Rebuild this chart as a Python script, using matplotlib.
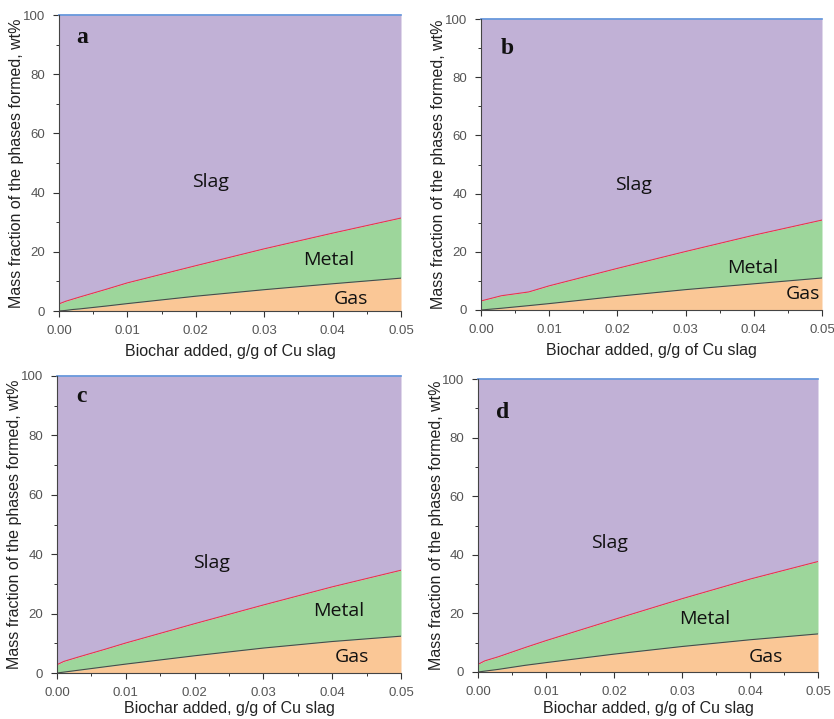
import matplotlib.pyplot as plt
import matplotlib.ticker as mticker
import numpy as np

# --------------------------------------------------------------------------- #
# Data (cumulative wt%)
# --------------------------------------------------------------------------- #

BIOCHAR = [0.0, 0.001, 0.002, 0.003, 0.007, 0.01, 0.02, 0.03, 0.04, 0.05]

GAS_A = [0.0, 0.2, 0.5, 0.7, 1.7, 2.5, 5.0, 7.2, 9.2, 11.1]
METAL_TOP_A = [2.4, 3.3, 4.0, 4.7, 7.4, 9.5, 15.3, 21.0, 26.3, 31.4]

GAS_B = [0.0, 0.2, 0.4, 0.6, 1.5, 2.2, 4.7, 7.0, 9.0, 11.0]
METAL_TOP_B = [3.1, 3.7, 4.3, 4.9, 6.2, 8.3, 14.3, 20.1, 25.7, 30.9]

GAS_C = [0.0, 0.3, 0.6, 0.9, 2.1, 3.0, 5.8, 8.4, 10.6, 12.4]
METAL_TOP_C = [2.8, 3.9, 4.6, 5.3, 8.0, 10.1, 16.6, 22.9, 29.0, 34.6]

GAS_D = [0.0, 0.3, 0.6, 0.9, 2.3, 3.2, 6.1, 8.7, 11.0, 13.0]
METAL_TOP_D = [2.6, 3.8, 4.5, 5.2, 8.4, 10.7, 17.9, 25.0, 31.7, 37.7]

PANEL_LETTERS = ["a", "b", "c", "d"]
GAS_SERIES = [GAS_A, GAS_B, GAS_C, GAS_D]
METAL_SERIES = [METAL_TOP_A, METAL_TOP_B, METAL_TOP_C, METAL_TOP_D]

# label anchor points (data coords): slag, metal, gas
LABEL_POS = [
    [(0.0222, 43.5), (0.0394, 17.3), (0.0427, 4.2)],
    [(0.0223, 43.0), (0.0399, 14.6), (0.0472, 5.5)],
    [(0.0224, 37.2), (0.0410, 20.8), (0.0428, 5.4)],
    [(0.0193, 44.0), (0.0334, 18.0), (0.0424, 5.2)],
]
LETTER_POS = [(0.069, 0.925), (0.077, 0.90), (0.071, 0.932), (0.072, 0.887)]

# axes rectangles in pixels: left, right, top, bottom
AX_PX = [
    (59, 401, 15, 311),
    (481, 822, 19, 310),
    (57, 401, 376, 673),
    (478, 818, 379, 672),
]
# pixel positions: right edge of y label, top of x label
YLABEL_RIGHT_PX = [24, 446, 22, 444]
XLABEL_TOP_PX = [344, 343, 701, 701]

SLAG_COLOR = "#C1B1D6"
METAL_COLOR = "#9DD69B"
GAS_COLOR = "#FAC796"

W, H = 834, 719


def draw_panel(ax, gas, metal_top, letter, labels, letter_pos):
    x = np.array(BIOCHAR)
    gas = np.array(gas)
    metal_top = np.array(metal_top)
    top = np.full_like(x, 100.0)

    ax.fill_between(x, 0, gas, color=GAS_COLOR, lw=0)
    ax.fill_between(x, gas, metal_top, color=METAL_COLOR, lw=0)
    ax.fill_between(x, metal_top, top, color=SLAG_COLOR, lw=0)
    ax.plot(x, gas, color="#4a4a4a", lw=0.8)
    ax.plot(x, metal_top, color="#E8364C", lw=0.8)
    ax.plot(x, top, color="#5B8FD9", lw=1.2, clip_on=False)

    ax.set_xlim(0, 0.05)
    ax.set_ylim(0, 100)
    ax.xaxis.set_major_locator(mticker.MultipleLocator(0.01))
    ax.xaxis.set_minor_locator(mticker.MultipleLocator(0.005))
    ax.yaxis.set_major_locator(mticker.MultipleLocator(20))
    ax.yaxis.set_minor_locator(mticker.MultipleLocator(10))
    ax.xaxis.set_major_formatter(mticker.FormatStrFormatter("%.2f"))
    ax.tick_params(which="both", direction="out", color="#333333",
                   labelsize=9.5, labelcolor="#555555", pad=6)
    ax.tick_params(which="major", length=4, width=0.8)
    ax.tick_params(which="minor", length=2.5, width=0.7)
    ax.spines[["top", "right"]].set_visible(False)
    ax.spines[["left", "bottom"]].set_color("#444444")

    ax.set_xlabel("Biochar added, g/g of Cu slag", fontsize=11.5,
                  color="#222222")
    ax.set_ylabel("Mass fraction of the phases formed, wt%", fontsize=11.5,
                  color="#222222")

    for name, (lx, ly) in zip(["Slag", "Metal", "Gas"], labels):
        ax.text(lx, ly, name, ha="center", va="center", fontsize=14,
                family="Open Sans", color="#111111")

    ax.text(letter_pos[0], letter_pos[1], letter, transform=ax.transAxes,
            ha="center", va="center", fontsize=17, fontweight="bold",
            family="Liberation Serif", color="#111111")


def main():
    plt.rcParams["font.family"] = ["Liberation Sans", "DejaVu Sans"]
    fig = plt.figure(figsize=(W / 100, H / 100), dpi=100)

    for i in range(4):
        left, right, top, bottom = AX_PX[i]
        rect = [left / W, 1 - bottom / H, (right - left) / W, (bottom - top) / H]
        ax = fig.add_axes(rect)
        draw_panel(ax, GAS_SERIES[i], METAL_SERIES[i], PANEL_LETTERS[i],
                   LABEL_POS[i], LETTER_POS[i])
        ax.yaxis.set_label_coords((YLABEL_RIGHT_PX[i] - left) / (right - left), 0.5)
        ax.xaxis.set_label_coords(0.5, -(XLABEL_TOP_PX[i] - bottom) / (bottom - top))

    fig.savefig("out.png", dpi=100)
    plt.close(fig)


if __name__ == "__main__":
    main()
